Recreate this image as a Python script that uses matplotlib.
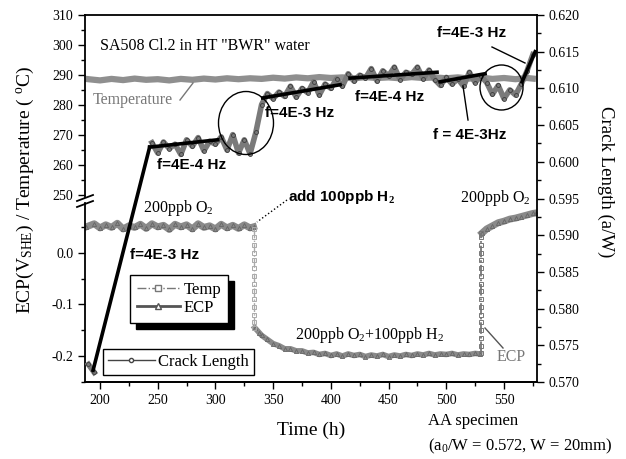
import matplotlib
matplotlib.use('Agg')
import matplotlib.pyplot as plt
from matplotlib.lines import Line2D
from matplotlib.patches import Ellipse, Rectangle
from matplotlib.ticker import MultipleLocator, FormatStrFormatter

plt.rcParams['font.family'] = 'Liberation Serif'
plt.rcParams['mathtext.fontset'] = 'custom'
plt.rcParams['mathtext.rm'] = 'Liberation Serif'
plt.rcParams['mathtext.it'] = 'Liberation Serif:italic'
plt.rcParams['mathtext.bf'] = 'Liberation Serif:bold'
plt.rcParams['axes.unicode_minus'] = False

# ---- data ----
time_cr_start = [190, 195]
crack_start = [0.5724, 0.5713]
time_cr = [245, 250, 255, 260, 265, 270, 275, 280, 285, 290, 295, 300, 305, 310,
           315, 320, 325, 330, 335, 340, 345, 350, 355, 360, 365, 370, 375, 380,
           385, 390, 395, 400, 405, 410, 415, 420, 425, 430, 435, 440, 445, 450,
           455, 460, 465, 470, 475, 480, 485, 490, 495, 500, 505, 510, 515, 520,
           525, 530, 535, 540, 545, 550, 555, 560, 565, 570, 575]
crack = [0.6026, 0.6012, 0.6027, 0.6018, 0.6024, 0.6010, 0.6030, 0.6021, 0.6033,
         0.6015, 0.6028, 0.6024, 0.6034, 0.6016, 0.6037, 0.6012, 0.6030, 0.6011,
         0.6040, 0.6078, 0.6093, 0.6086, 0.6095, 0.6089, 0.6103, 0.6088, 0.6100,
         0.6094, 0.6109, 0.6091, 0.6106, 0.6100, 0.6113, 0.6103,
         0.6120, 0.6110, 0.6118, 0.6114, 0.6127, 0.6110, 0.6124, 0.6117, 0.6129,
         0.6112, 0.6122, 0.6119, 0.6129, 0.6113, 0.6125, 0.6112,
         0.6104, 0.6115, 0.6106, 0.6113, 0.6103, 0.6122, 0.6108, 0.6117, 0.6108,
         0.6092, 0.6104, 0.6086, 0.6098, 0.6091, 0.6106, 0.6124, 0.6146]

# fitted segments (start time, start a/W, end time, end a/W)
fit_t0 = [194, 243, 341, 416.6, 494.6, 565.7]
fit_a0 = [0.5716, 0.6020, 0.6087, 0.6114, 0.6109, 0.6109]
fit_t1 = [243, 302, 408, 492, 533.6, 577]
fit_a1 = [0.6020, 0.6030, 0.6105, 0.6122, 0.6120, 0.6150]

time_temp = [190, 200, 210, 220, 230, 240, 250, 260, 270, 280, 290, 300, 310, 320,
             330, 340, 350, 360, 370, 380, 390, 400, 410, 420, 430, 440, 450, 460,
             470, 480, 490, 500, 510, 520, 530, 540, 550, 560, 570, 575]
temp = [288.6, 288.2, 288.7, 288.3, 288.8, 288.4, 288.6, 288.2, 288.7, 288.4,
        288.8, 288.5, 288.9, 288.6, 288.9, 288.7, 289.1, 288.8, 289.2, 288.9,
        289.3, 289.0, 289.2, 288.9, 289.3, 289.0, 289.2, 288.9, 289.3, 289.0,
        289.2, 288.9, 289.2, 288.8, 289.1, 288.7, 289.0, 288.6, 289.0, 288.8]

time_ecp_o2 = [188, 195, 200, 205, 210, 215, 220, 225, 230, 235, 240, 245, 250, 255,
               260, 265, 270, 275, 280, 285, 290, 295, 300, 305, 310, 315, 320,
               325, 330, 333]
ecp_o2 = [0.050, 0.056, 0.048, 0.054, 0.049, 0.057, 0.046, 0.052, 0.049, 0.055,
          0.047, 0.056, 0.050, 0.053, 0.045, 0.055, 0.050, 0.054, 0.046, 0.056,
          0.049, 0.052, 0.046, 0.055, 0.048, 0.053, 0.047, 0.054, 0.048, 0.050]

time_ecp_h2 = [334, 338, 340, 345, 350, 355, 360, 365, 370, 375, 380, 385, 390,
               395, 400, 405, 410, 415, 420, 425, 430, 435, 440, 445, 450, 455,
               460, 465, 470, 475, 480, 485, 490, 495, 500, 505, 510, 515, 520,
               525, 529]
ecp_h2 = [-0.145, -0.155, -0.160, -0.168, -0.176, -0.180, -0.186, -0.186, -0.190,
          -0.190, -0.194, -0.193, -0.197, -0.195, -0.199, -0.196, -0.200, -0.196,
          -0.199, -0.197, -0.201, -0.198, -0.200, -0.197, -0.201, -0.198, -0.200,
          -0.197, -0.199, -0.196, -0.198, -0.195, -0.198, -0.196, -0.197, -0.195,
          -0.198, -0.196, -0.197, -0.195, -0.196]

time_ecp_back = [531, 535, 540, 545, 550, 555, 560, 565, 570, 575, 578]
ecp_back = [0.038, 0.046, 0.052, 0.058, 0.061, 0.065, 0.067, 0.070, 0.073,
            0.076, 0.077]

t_drop = 333
ecp_drop = [0.046, 0.030, 0.015, 0.0, -0.015, -0.030, -0.045, -0.060, -0.075,
            -0.090, -0.105, -0.120, -0.135, -0.145]
t_rise = 530
ecp_rise = [-0.195, -0.180, -0.165, -0.150, -0.135, -0.120, -0.105, -0.090,
            -0.075, -0.060, -0.045, -0.030, -0.015, 0.0, 0.015, 0.030, 0.038]

# ---- layout (pixel helpers) ----
W, H = 626, 459
def fx(px):
    return px / W
def fy(py):
    return 1 - py / H

L, R, T, B = 85, 537, 15, 382
BRK_T, BRK_B = 197, 203
XLIM = (187, 578.6)
grey_t = '#8f8f8f'
grey_e = '#8a8a8a'

fig = plt.figure(figsize=(6.26, 4.59), dpi=100)
ax_t = fig.add_axes([fx(L), fy(BRK_T), fx(R) - fx(L), fy(T) - fy(BRK_T)])
ax_e = fig.add_axes([fx(L), fy(B), fx(R) - fx(L), fy(BRK_B) - fy(B)])
ax_c = fig.add_axes([fx(L), fy(B), fx(R) - fx(L), fy(T) - fy(B)])

for a in (ax_t, ax_e, ax_c):
    a.set_xlim(*XLIM)
    a.set_facecolor('none')
    for s in a.spines.values():
        s.set_linewidth(1.3)
    a.tick_params(which='both', direction='out', labelsize=10, width=1)
    a.tick_params(which='major', length=5)
    a.tick_params(which='minor', length=3)

# temperature axis (upper half of broken left axis)
ax_t.plot(time_temp, temp, color=grey_t, lw=4.5, solid_joinstyle='round')
ax_t.set_ylim(249.33, 310)
ax_t.yaxis.set_major_locator(MultipleLocator(10))
ax_t.yaxis.set_minor_locator(MultipleLocator(5))
ax_t.tick_params(axis='x', which='both', bottom=False, labelbottom=False)
for s in ('top', 'right', 'bottom'):
    ax_t.spines[s].set_visible(False)

# ECP axis (lower half)
ecp_style = dict(color=grey_e, lw=5, solid_joinstyle='round', marker='^', ms=3,
                 mfc='none', mec='#666666', mew=0.6)
ax_e.plot(time_ecp_o2, ecp_o2, **ecp_style)
ax_e.plot(time_ecp_h2, ecp_h2, **dict(ecp_style, lw=4))
ax_e.plot(time_ecp_back, ecp_back, **ecp_style)
ax_e.plot([t_drop] * len(ecp_drop), ecp_drop, color='#aaaaaa', ls='-.', lw=1,
          marker='s', ms=3, mfc='none', mew=0.7)
ax_e.plot([t_rise] * len(ecp_rise), ecp_rise, color='#777777', ls='-.', lw=1.3,
          marker='s', ms=3, mfc='none', mew=0.7)
ax_e.set_ylim(-0.2503, 0.0962)
ax_e.yaxis.set_major_locator(MultipleLocator(0.1))
ax_e.yaxis.set_minor_locator(MultipleLocator(0.05))
ax_e.yaxis.set_major_formatter(FormatStrFormatter('%.1f'))
ax_e.xaxis.set_major_locator(MultipleLocator(50))
ax_e.xaxis.set_minor_locator(MultipleLocator(25))
for s in ('top', 'right'):
    ax_e.spines[s].set_visible(False)

# crack length axis (right, full height)
crack_style = dict(color='#7a7a7a', lw=4, solid_joinstyle='round', marker='o',
                   ms=2.8, mfc='none', mec='#3a3a3a', mew=0.6)
ax_c.plot(time_cr_start, crack_start, **crack_style)
ax_c.plot(time_cr, crack, **crack_style)
for t0, a0, t1, a1 in zip(fit_t0, fit_a0, fit_t1, fit_a1):
    ax_c.plot([t0, t1], [a0, a1], color='black', lw=2.6)
ax_c.set_ylim(0.570, 0.620)
ax_c.yaxis.tick_right()
ax_c.yaxis.set_major_locator(MultipleLocator(0.005))
ax_c.yaxis.set_minor_locator(MultipleLocator(0.0025))
ax_c.yaxis.set_major_formatter(FormatStrFormatter('%.3f'))
ax_c.tick_params(axis='x', which='both', bottom=False, labelbottom=False)
ax_c.spines['left'].set_visible(False)

# axis break marks
for y0 in (201, 207):
    fig.add_artist(Line2D([fx(77), fx(93)], [fy(y0), fy(y0 - 6)], color='black', lw=1.3))

# axis labels
fig.text(fx(25), fy(190), r'ECP(V$_{\mathrm{SHE}}$) / Temperature ( $^{\mathrm{o}}$C)',
         rotation=90, ha='center', va='center', fontsize=14)
fig.text(fx(606), fy(182), 'Crack Length (a/W)', rotation=270, ha='center',
         va='center', fontsize=13.5)
fig.text(fx(311), fy(430), 'Time (h)', ha='center', va='center', fontsize=14)
fig.text(fx(428), fy(421), 'AA specimen', ha='left', va='center', fontsize=12)
fig.text(fx(428), fy(446), r'(a$_0$/W = 0.572, W = 20mm)', ha='left', va='center', fontsize=12)

# annotations
serif = dict(ha='left', va='center', fontsize=11.5)
bold = dict(ha='left', va='center', fontsize=11, family='Liberation Sans', weight='bold')
fig.text(fx(100), fy(46), 'SA508 Cl.2 in HT "BWR" water', **serif)
fig.text(fx(93), fy(100), 'Temperature', color='#777777', **serif)
fig.add_artist(Line2D([fx(180), fx(193)], [fy(100), fy(83)], color='#777777', lw=1))
fig.text(fx(157), fy(165), 'f=4E-4 Hz', **bold)
fig.text(fx(265), fy(113), 'f=4E-3 Hz', **bold)
fig.text(fx(355), fy(97), 'f=4E-4 Hz', **bold)
fig.text(fx(433), fy(135), 'f = 4E-3Hz', **bold)
fig.add_artist(Line2D([fx(468), fx(463)], [fy(120), fy(86)], color='black', lw=1))
fig.text(fx(437), fy(33), 'f=4E-3 Hz', **bold)
fig.add_artist(Line2D([fx(492), fx(525)], [fy(47), fy(63)], color='black', lw=1))
fig.text(fx(288), fy(197), r'add 100ppb H$_\mathbf{2}$', **bold)
fig.add_artist(Line2D([fx(287), fx(257)], [fy(200), fy(222)], color='black', lw=1, ls=':'))
fig.text(fx(143), fy(208), r'200ppb O$_2$', **serif)
fig.text(fx(460), fy(198), r'200ppb O$_2$', **serif)
fig.text(fx(130), fy(255), 'f=4E-3 Hz', **bold)
fig.text(fx(295), fy(335), r'200ppb O$_2$+100ppb H$_2$', **serif)
fig.text(fx(497), fy(357), 'ECP', color='#777777', **serif)
fig.add_artist(Line2D([fx(485), fx(503)], [fy(328), fy(348)], color='#555555', lw=1))

fig.add_artist(Ellipse((fx(246), fy(123)), 55 / W, 63 / H, fill=False, ec='black', lw=1))
fig.add_artist(Ellipse((fx(501.5), fy(87.5)), 43 / W, 45 / H, fill=False, ec='black', lw=1))

# legends
h_temp = Line2D([], [], color='#777777', ls='-.', lw=1, marker='s', ms=4, mfc='white')
h_ecp = Line2D([], [], color='#555555', lw=2, marker='^', ms=4.5, mfc='white')
h_crack = Line2D([], [], color='#444444', lw=1, marker='o', ms=3, mfc='white')
leg1 = fig.legend([h_temp, h_ecp], ['Temp', 'ECP'], loc='upper left',
                  bbox_to_anchor=(fx(130), fy(275)), borderaxespad=0, fontsize=12,
                  frameon=True, fancybox=False, edgecolor='black', framealpha=1,
                  handlelength=2.6, handletextpad=0.2, labelspacing=0.15,
                  borderpad=0.4)
leg2 = fig.legend([h_crack], ['Crack Length'], loc='upper left',
                  bbox_to_anchor=(fx(103), fy(349)), borderaxespad=0, fontsize=12,
                  frameon=True, fancybox=False, edgecolor='black', framealpha=1,
                  handlelength=2.8, handletextpad=0.2, borderpad=0.3)
for lg in (leg1, leg2):
    lg.get_frame().set_linewidth(1)
    lg.set_zorder(5)

fig.canvas.draw()
bb = leg1.get_window_extent().transformed(fig.transFigure.inverted())
fig.add_artist(Rectangle((bb.x0 + 6 / W, bb.y0 - 6 / H), bb.width, bb.height,
                         color='black', zorder=4))

fig.savefig('out.png', dpi=100)
